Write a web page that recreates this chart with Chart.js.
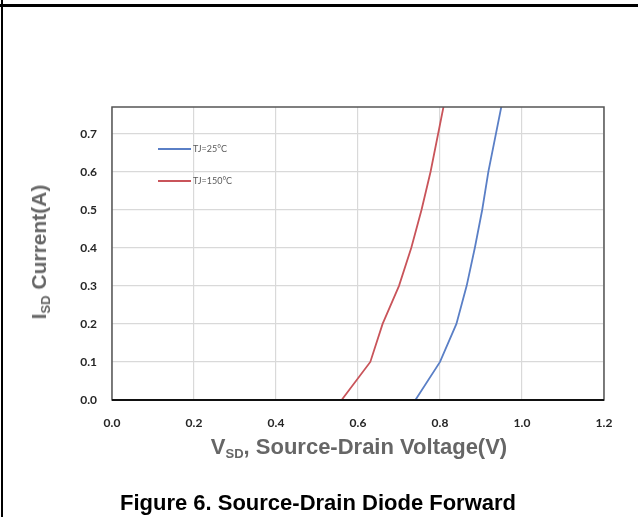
<!DOCTYPE html>
<html>
<head>
<meta charset="utf-8">
<script src="https://cdn.jsdelivr.net/npm/chart.js@4/dist/chart.umd.min.js"></script>
<style>
  html, body { margin: 0; padding: 0; background: #fff; }
  #wrap { position: relative; width: 638px; height: 517px; overflow: hidden; }
  #chart { position: absolute; left: 0; top: 0; }
  .frameTop { position: absolute; left: 0; top: 4px; width: 638px; height: 3px; background: #000; }
  .frameLeft { position: absolute; left: 1px; top: 0; width: 2px; height: 517px; background: #000; }
  .ytitle {
    position: absolute; left: 40px; top: 252px;
    transform: translate(-50%, -50%) rotate(-90deg);
    font: bold 21px "Liberation Sans", Arial, sans-serif; color: #666; white-space: nowrap;
  }
  .xtitle {
    position: absolute; left: 359px; top: 447px; transform: translate(-50%, -50%);
    font: bold 22px "Liberation Sans", Arial, sans-serif; color: #666; white-space: nowrap;
  }
  sub { font-size: 13px; vertical-align: -4px; }
  .caption {
    position: absolute; left: 318px; top: 503px; transform: translate(-50%, -50%);
    font: bold 22px "Liberation Sans", Arial, sans-serif; color: #000; white-space: nowrap;
  }
</style>
</head>
<body>
<div id="wrap">
  <canvas id="chart" width="638" height="517"></canvas>
  <div class="frameTop"></div>
  <div class="frameLeft"></div>
  <div class="ytitle">I<sub>SD</sub> Current(A)</div>
  <div class="xtitle">V<sub>SD</sub>, Source-Drain Voltage(V)</div>
  <div class="caption">Figure 6. Source-Drain Diode Forward</div>
</div>
<script>
// values
const seriesLabels = ["TJ=25°C", "TJ=150°C"];
const vsd25 = [0.74, 0.80, 0.84, 0.865, 0.885, 0.903, 0.918, 0.955];
const isd25 = [0.0, 0.1, 0.2, 0.3, 0.4, 0.5, 0.6, 0.8];
const vsd150 = [0.56, 0.63, 0.66, 0.70, 0.73, 0.755, 0.777, 0.814];
const isd150 = [0.0, 0.1, 0.2, 0.3, 0.4, 0.5, 0.6, 0.8];

function toPoints(xs, ys) {
    return xs.map(function (x, i) { return { x: x, y: ys[i] }; });
}

// legend drawn inside the plot area, Excel style
const innerLegend = {
    id: "innerLegend",
    afterDatasetsDraw(chart) {
        const ctx = chart.ctx;
        const area = chart.chartArea;
        ctx.save();
        chart.data.datasets.forEach(function (ds, i) {
            const y = area.top + 42 + i * 32;
            const x0 = area.left + 46;
            ctx.strokeStyle = ds.borderColor;
            ctx.lineWidth = 1.8;
            ctx.beginPath();
            ctx.moveTo(x0, y);
            ctx.lineTo(x0 + 33, y);
            ctx.stroke();
            ctx.fillStyle = "#595959";
            ctx.font = "9px Lato, 'Liberation Sans', sans-serif";
            ctx.textBaseline = "middle";
            ctx.fillText(ds.label, x0 + 35, y);
        });
        ctx.restore();
    },
    afterDraw(chart) {
        const ctx = chart.ctx;
        const a = chart.chartArea;
        ctx.save();
        ctx.strokeStyle = "#555";
        ctx.lineWidth = 1.5;
        ctx.strokeRect(a.left, a.top, a.right - a.left, a.bottom - a.top);
        ctx.strokeStyle = "#111";
        ctx.lineWidth = 2;
        ctx.beginPath();
        ctx.moveTo(a.left, a.bottom);
        ctx.lineTo(a.right, a.bottom);
        ctx.stroke();
        ctx.restore();
    }
};

const tickFont = { family: "Lato, 'Liberation Sans', sans-serif", size: 12, weight: "bold" };

new Chart(document.getElementById("chart"), {
    type: "scatter",
    data: {
        datasets: [{
            label: seriesLabels[0],
            data: toPoints(vsd25, isd25),
            borderColor: "#5a7fc6",
            showLine: true,
            pointRadius: 0,
            borderWidth: 1.8,
            tension: 0
        }, {
            label: seriesLabels[1],
            data: toPoints(vsd150, isd150),
            borderColor: "#c9545a",
            showLine: true,
            pointRadius: 0,
            borderWidth: 1.8,
            tension: 0
        }]
    },
    options: {
        responsive: false,
        animation: false,
        layout: { padding: { top: 107, right: 34, left: 0, bottom: 0 } },
        plugins: {
            legend: { display: false },
            tooltip: { enabled: false }
        },
        scales: {
            x: {
                type: "linear",
                min: 0,
                max: 1.2,
                afterFit: function (scale) { scale.height = 117; },
                grid: { color: "#d9d9d9", lineWidth: 1.2, drawTicks: false },
                border: { display: false },
                ticks: {
                    stepSize: 0.2,
                    padding: 16,
                    color: "#262626",
                    font: tickFont,
                    callback: function (v) { return v.toFixed(1); }
                }
            },
            y: {
                type: "linear",
                min: 0,
                max: 0.77,
                afterFit: function (scale) { scale.width = 112; },
                grid: { color: "#d9d9d9", lineWidth: 1.2, drawTicks: false },
                border: { display: false },
                ticks: {
                    stepSize: 0.1,
                    includeBounds: false,
                    padding: 15,
                    color: "#262626",
                    font: tickFont,
                    callback: function (v) { return v.toFixed(1); }
                }
            }
        }
    },
    plugins: [innerLegend]
});
</script>
</body>
</html>
